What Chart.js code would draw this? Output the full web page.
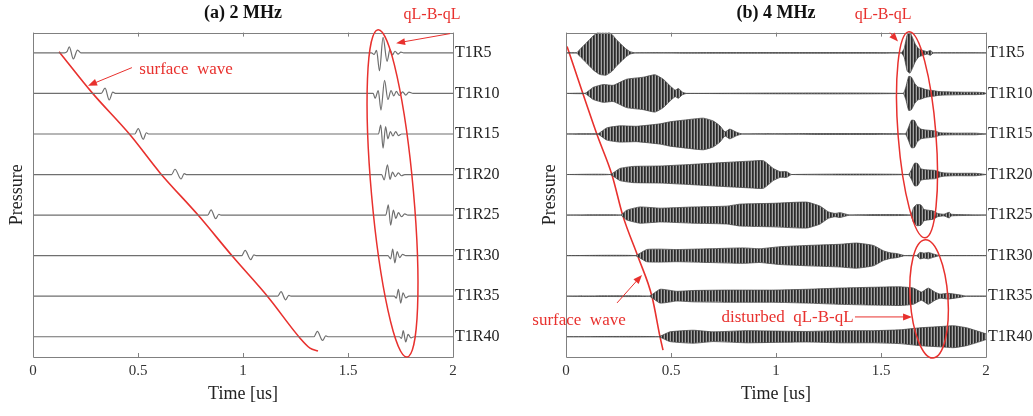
<!DOCTYPE html>
<html>
<head>
<meta charset="utf-8">
<script src="https://cdn.jsdelivr.net/npm/chart.js@4/dist/chart.umd.min.js"></script>
<style>
  body { margin: 0; background: #fff; width: 1033px; height: 416px; overflow: hidden; position: relative; }
  .panel { position: absolute; top: 0; height: 416px; }
  #panel-a { left: 0; width: 533px; }
  #panel-b { left: 533px; width: 500px; }
</style>
</head>
<body>
<div class="panel" id="panel-a"><canvas id="chart-a"></canvas></div>
<div class="panel" id="panel-b"><canvas id="chart-b"></canvas></div>
<script>
// Receivers, top to bottom, and time ticks
const receivers = ['T1R5', 'T1R10', 'T1R15', 'T1R20', 'T1R25', 'T1R30', 'T1R35', 'T1R40'];
const timeTicks = [0, 0.5, 1, 1.5, 2];

// (a) 2 MHz: surface wave wiggle per receiver, [time us, pressure]
const surfaceA = [
    [[0.15, 0], [0.162, 0.03], [0.173, 0.15], [0.192, -0.15], [0.212, 0.07], [0.228, 0]],
    [[0.325, 0], [0.343, 0.13], [0.363, -0.16], [0.38, 0.03], [0.392, 0]],
    [[0.485, 0], [0.501, 0.13], [0.525, -0.13], [0.54, 0.03], [0.55, 0]],
    [[0.66, 0], [0.676, 0.13], [0.705, -0.11], [0.72, 0.02], [0.73, 0]],
    [[0.832, 0], [0.848, 0.13], [0.87, -0.09], [0.885, 0.02], [0.895, 0]],
    [[0.994, 0], [1.01, 0.13], [1.037, -0.1], [1.052, 0.02], [1.062, 0]],
    [[1.165, 0], [1.181, 0.11], [1.203, -0.09], [1.218, 0.02], [1.228, 0]],
    [[1.338, 0], [1.354, 0.13], [1.379, -0.09], [1.394, 0.02], [1.404, 0]]
];

// (a) 2 MHz: qL-B-qL arrivals per receiver
const qlbqlA = [
    [[1.612, 0], [1.624, -0.04], [1.636, 0.06], [1.65, -0.44], [1.667, 0.38], [1.686, -0.21], [1.7, 0.08], [1.712, -0.05], [1.724, 0.04], [1.738, -0.03], [1.752, 0.02], [1.765, 0]],
    [[1.62, 0], [1.629, -0.12], [1.644, 0.07], [1.657, -0.41], [1.674, 0.32], [1.69, -0.15], [1.705, 0.07], [1.718, -0.06], [1.73, 0.05], [1.745, -0.05], [1.76, 0.04], [1.775, -0.04], [1.79, 0.03], [1.81, 0]],
    [[1.645, 0], [1.656, 0.22], [1.667, -0.35], [1.679, 0.18], [1.69, -0.12], [1.702, 0.06], [1.714, -0.05], [1.727, 0.06], [1.74, -0.04], [1.755, 0]],
    [[1.66, 0], [1.672, -0.13], [1.688, 0.24], [1.7, -0.12], [1.712, 0.06], [1.725, -0.05], [1.74, 0.04], [1.755, -0.03], [1.77, 0]],
    [[1.68, 0], [1.692, 0.25], [1.703, -0.25], [1.716, 0.12], [1.728, -0.08], [1.74, 0.06], [1.755, -0.04], [1.77, 0.03], [1.785, 0]],
    [[1.69, 0], [1.703, -0.08], [1.713, 0.16], [1.723, -0.18], [1.734, 0.1], [1.746, -0.05], [1.76, 0.03], [1.775, 0]],
    [[1.72, 0], [1.73, -0.05], [1.74, 0.17], [1.751, -0.17], [1.762, 0.08], [1.775, -0.04], [1.79, 0]],
    [[1.745, 0], [1.755, -0.04], [1.763, 0.15], [1.775, -0.13], [1.786, 0.06], [1.8, -0.03], [1.815, 0]]
];

// (a) surface wave guide line, [time, trace level]
const surfaceLineA = [[0.124, 8.03], [0.281, 7.02], [0.462, 5.98], [0.605, 5.04], [0.786, 4.0], [0.952, 2.97], [1.119, 1.98], [1.271, 0.97], [1.319, 0.72], [1.357, 0.65]];

// (b) 4 MHz: envelope of the dense surface wave packets, [time, half amplitude]
const surfaceEnvB = [
    [[0.05, 0], [0.065, 0.08], [0.098, 0.25], [0.13, 0.42], [0.16, 0.53], [0.19, 0.55], [0.22, 0.45], [0.241, 0.32], [0.265, 0.2], [0.285, 0.1], [0.305, 0.03], [0.33, 0]],
    [[0.09, 0], [0.13, 0.15], [0.178, 0.22], [0.225, 0.2], [0.289, 0.35], [0.368, 0.4], [0.424, 0.46], [0.463, 0.35], [0.503, 0.15], [0.52, 0.08], [0.535, 0.12], [0.555, 0.03], [0.575, 0]],
    [[0.15, 0], [0.194, 0.15], [0.257, 0.2], [0.337, 0.19], [0.448, 0.25], [0.495, 0.3], [0.575, 0.35], [0.654, 0.39], [0.701, 0.32], [0.733, 0.2], [0.757, 0.05], [0.78, 0.12], [0.813, 0.04], [0.84, 0]],
    [[0.21, 0], [0.257, 0.15], [0.32, 0.2], [0.448, 0.21], [0.6, 0.25], [0.765, 0.3], [0.876, 0.33], [0.94, 0.34], [0.987, 0.15], [1.02, 0.07], [1.05, 0.07], [1.075, 0]],
    [[0.26, 0], [0.289, 0.12], [0.352, 0.2], [0.448, 0.17], [0.606, 0.2], [0.765, 0.22], [0.829, 0.27], [0.987, 0.29], [1.146, 0.32], [1.21, 0.22], [1.249, 0.08], [1.281, 0.04], [1.305, 0.06], [1.352, 0]],
    [[0.33, 0], [0.384, 0.15], [0.448, 0.16], [0.527, 0.15], [0.686, 0.17], [0.844, 0.19], [0.924, 0.17], [1.019, 0.22], [1.146, 0.25], [1.305, 0.28], [1.384, 0.31], [1.464, 0.25], [1.511, 0.12], [1.543, 0.07], [1.575, 0.05], [1.614, 0]],
    [[0.395, 0], [0.448, 0.17], [0.527, 0.12], [0.606, 0.14], [0.765, 0.15], [0.987, 0.15], [1.146, 0.17], [1.305, 0.2], [1.464, 0.22], [1.59, 0.23], [1.654, 0.2], [1.693, 0.1], [1.725, 0.2], [1.757, 0.1], [1.781, 0.05], [1.82, 0.07], [1.876, 0.03], [1.908, 0]],
    [[0.44, 0], [0.495, 0.12], [0.606, 0.16], [0.701, 0.12], [0.86, 0.15], [0.987, 0.14], [1.146, 0.13], [1.305, 0.15], [1.464, 0.15], [1.59, 0.17], [1.686, 0.22], [1.781, 0.25], [1.845, 0.27], [1.908, 0.22], [1.971, 0.12], [2.0, 0.07]]
];

// (b) 4 MHz: envelope of the qL-B-qL packets
const qlbqlEnvB = [
    [[1.595, 0], [1.61, 0.1], [1.625, 0.45], [1.638, 0.5], [1.652, 0.35], [1.665, 0.2], [1.68, 0.1], [1.7, 0.06], [1.72, 0.03], [1.735, 0.06], [1.75, 0]],
    [[1.605, 0], [1.618, 0.15], [1.632, 0.42], [1.645, 0.4], [1.66, 0.25], [1.675, 0.16], [1.69, 0.14], [1.71, 0.1], [1.73, 0.08], [1.75, 0.07], [1.77, 0.05], [1.8, 0.04], [1.85, 0.035], [1.9, 0.03], [1.95, 0.03], [1.99, 0.02]],
    [[1.615, 0], [1.63, 0.15], [1.645, 0.34], [1.66, 0.33], [1.672, 0.2], [1.69, 0.12], [1.71, 0.1], [1.73, 0.09], [1.76, 0.07], [1.78, 0.03], [1.85, 0.02], [1.95, 0.02]],
    [[1.63, 0], [1.645, 0.12], [1.66, 0.28], [1.675, 0.27], [1.69, 0.14], [1.71, 0.12], [1.735, 0.11], [1.76, 0.1], [1.78, 0.06], [1.8, 0.04], [1.85, 0.03], [1.95, 0.03]],
    [[1.64, 0], [1.655, 0.18], [1.67, 0.26], [1.69, 0.25], [1.705, 0.14], [1.725, 0.12], [1.75, 0.1], [1.77, 0.04], [1.8, 0.02], [1.825, 0.07], [1.835, 0.02], [1.9, 0.01]],
    [[1.67, 0], [1.685, 0.08], [1.705, 0.06], [1.725, 0.08], [1.75, 0.04], [1.78, 0]],
    [],
    []
];

// (b) surface wave guide line
const surfaceLineB = [[0.005, 8.155], [0.148, 5.98], [0.219, 4.99], [0.271, 3.98], [0.343, 2.97], [0.41, 1.98], [0.448, 0.99], [0.462, 0.67]];

// Styling
const RED = '#e8312e';
const TRACE = '#6f6f6f';
const SERIF = 'Liberation Serif';

// Annotations, placed in data coordinates
const notesA = {
    texts: [
        { text: 'qL-B-qL', at: [1.9, 8.94], size: 16 },
        { text: 'surface  wave', at: [0.729, 7.59], size: 17 }
    ],
    arrows: [
        { from: [1.986, 8.475], to: [1.729, 8.24] },
        { from: [0.471, 7.636], to: [0.262, 7.19] }
    ],
    ellipses: [
        { top: [1.643, 8.57], bottom: [1.781, 0.5], half: 0.1 }
    ]
};
const notesB = {
    texts: [
        { text: 'qL-B-qL', at: [1.51, 8.94], size: 16 },
        { text: 'surface  wave', at: [0.062, 1.41], size: 17 },
        { text: 'disturbed  qL-B-qL', at: [1.055, 1.463], size: 17 }
    ],
    arrows: [
        { from: [1.543, 8.5], to: [1.581, 8.28] },
        { from: [0.243, 1.833], to: [0.362, 2.525] },
        { from: [1.376, 1.488], to: [1.648, 1.488] }
    ],
    ellipses: [
        { top: [1.633, 8.52], bottom: [1.71, 3.44], half: 0.09 },
        { top: [1.71, 3.39], bottom: [1.748, 0.475], half: 0.09 }
    ]
};

// Dense oscillation look for the 4 MHz packets
function stripes() {
    const c = document.createElement('canvas');
    c.width = 3; c.height = 1;
    const g = c.getContext('2d');
    g.fillStyle = '#2a2a2a'; g.fillRect(0, 0, 1, 1);
    g.fillStyle = '#4e4e4e'; g.fillRect(1, 0, 1, 1);
    g.fillStyle = '#a4a4a4'; g.fillRect(2, 0, 1, 1);
    return g.createPattern(c, 'repeat');
}

const level = i => receivers.length - i;

function wiggleDatasets() {
    return receivers.map((r, i) => {
        const base = level(i);
        const pts = [[0, 0], ...surfaceA[i], ...qlbqlA[i], [2, 0]];
        return {
            label: r,
            data: pts.map(p => ({ x: p[0], y: base + p[1] })),
            borderColor: TRACE,
            borderWidth: 1.2,
            pointRadius: 0,
            cubicInterpolationMode: 'monotone',
            fill: false
        };
    });
}

function envelopeDatasets() {
    const pattern = stripes();
    const sets = [];
    receivers.forEach((r, i) => {
        const base = level(i);
        const env = [[0, 0], ...surfaceEnvB[i], ...qlbqlEnvB[i]].sort((a, b) => a[0] - b[0]);
        if (env[env.length - 1][0] < 2) env.push([2, 0]);
        sets.push({
            label: r + ' upper',
            data: env.map(p => ({ x: p[0], y: base + p[1] })),
            borderColor: '#4a4a4a', borderWidth: 0.8, pointRadius: 0, tension: 0.15, fill: false
        });
        sets.push({
            label: r + ' lower',
            data: env.map(p => ({ x: p[0], y: base - p[1] })),
            borderColor: '#4a4a4a', borderWidth: 0.8, pointRadius: 0, tension: 0.15,
            fill: '-1', backgroundColor: pattern
        });
    });
    return sets;
}

function guideLine(points) {
    return {
        label: 'surface wave',
        data: points.map(p => ({ x: p[0], y: p[1] })),
        borderColor: RED,
        borderWidth: 1.6,
        pointRadius: 0,
        cubicInterpolationMode: 'monotone',
        fill: false
    };
}

// Box and inward ticks
const framePlugin = {
    id: 'frame',
    afterDatasetsDraw(chart) {
        const { ctx, chartArea: a, scales: { x } } = chart;
        ctx.save();
        ctx.strokeStyle = '#808080';
        ctx.lineWidth = 1;
        ctx.beginPath();
        ctx.rect(Math.round(a.left) + 0.5, Math.round(a.top) + 0.5, Math.round(a.width), Math.round(a.height));
        timeTicks.forEach(v => {
            const px = Math.round(x.getPixelForValue(v)) + 0.5;
            ctx.moveTo(px, a.bottom); ctx.lineTo(px, a.bottom - 4);
            ctx.moveTo(px, a.top); ctx.lineTo(px, a.top + 4);
        });
        ctx.stroke();
        ctx.restore();
    }
};

function notesPlugin(notes) {
    return {
        id: 'notes',
        afterDraw(chart) {
            const { ctx, scales: { x, y } } = chart;
            const P = p => [x.getPixelForValue(p[0]), y.getPixelForValue(p[1])];
            ctx.save();
            ctx.strokeStyle = RED;
            ctx.fillStyle = RED;
            ctx.lineWidth = 1.5;

            notes.ellipses.forEach(e => {
                const [x1, y1] = P(e.top), [x2, y2] = P(e.bottom);
                const rx = Math.hypot(x2 - x1, y2 - y1) / 2;
                const ry = e.half * (x.getPixelForValue(1) - x.getPixelForValue(0));
                ctx.beginPath();
                ctx.ellipse((x1 + x2) / 2, (y1 + y2) / 2, rx, ry, Math.atan2(y2 - y1, x2 - x1), 0, Math.PI * 2);
                ctx.stroke();
            });

            notes.arrows.forEach(ar => {
                const [x1, y1] = P(ar.from), [x2, y2] = P(ar.to);
                const ang = Math.atan2(y2 - y1, x2 - x1);
                ctx.lineWidth = 1;
                ctx.beginPath();
                ctx.moveTo(x1, y1);
                ctx.lineTo(x2 - 6 * Math.cos(ang), y2 - 6 * Math.sin(ang));
                ctx.stroke();
                ctx.beginPath();
                ctx.moveTo(x2, y2);
                ctx.lineTo(x2 - 9 * Math.cos(ang) + 3.5 * Math.sin(ang), y2 - 9 * Math.sin(ang) - 3.5 * Math.cos(ang));
                ctx.lineTo(x2 - 9 * Math.cos(ang) - 3.5 * Math.sin(ang), y2 - 9 * Math.sin(ang) + 3.5 * Math.cos(ang));
                ctx.closePath();
                ctx.fill();
            });

            ctx.textAlign = 'center';
            ctx.textBaseline = 'middle';
            notes.texts.forEach(t => {
                const [tx, ty] = P(t.at);
                ctx.font = t.size + 'px "' + SERIF + '"';
                ctx.fillText(t.text, tx, ty);
            });
            ctx.restore();
        }
    };
}

function makeChart(id, title, datasets, notes, rightWidth) {
    return new Chart(document.getElementById(id), {
        type: 'line',
        data: { datasets },
        options: {
            responsive: true,
            maintainAspectRatio: false,
            animation: false,
            layout: { padding: { left: 0, right: 0, top: 0, bottom: 9 } },
            plugins: {
                legend: { display: false },
                tooltip: { enabled: false },
                title: {
                    display: true, text: title, fullSize: false, color: '#111',
                    font: { family: SERIF, size: 18, weight: 'bold' },
                    padding: { top: 3, bottom: 8 }
                }
            },
            scales: {
                x: {
                    type: 'linear', min: 0, max: 2, position: 'bottom',
                    afterBuildTicks: s => { s.ticks = timeTicks.map(v => ({ value: v })); },
                    afterFit: s => { s.height = 50; },
                    grid: { display: false, drawTicks: false },
                    border: { display: false },
                    ticks: { color: '#333', padding: 5, font: { family: SERIF, size: 15 }, callback: v => String(v) },
                    title: { display: true, text: 'Time [us]', color: '#222', padding: { top: 0, bottom: 2 }, font: { family: SERIF, size: 18 } }
                },
                y: {
                    type: 'linear', min: 0.5, max: 8.5, position: 'right',
                    afterBuildTicks: s => { s.ticks = receivers.map((r, i) => ({ value: level(i) })); },
                    afterFit: s => { s.width = rightWidth; },
                    grid: { display: false, drawTicks: false },
                    border: { display: false },
                    ticks: {
                        color: '#222', padding: 2, font: { family: SERIF, size: 16 },
                        callback: v => receivers[receivers.length - Math.round(v)]
                    }
                },
                yl: {
                    type: 'linear', min: 0.5, max: 8.5, position: 'left',
                    afterFit: s => { s.width = 33; },
                    grid: { display: false, drawTicks: false },
                    border: { display: false },
                    ticks: { display: false },
                    title: { display: true, text: 'Pressure', color: '#222', padding: { top: 6, bottom: 0 }, font: { family: SERIF, size: 18 } }
                }
            }
        },
        plugins: [framePlugin, notesPlugin(notes)]
    });
}

makeChart('chart-a', '(a) 2 MHz', [...wiggleDatasets(), guideLine(surfaceLineA)], notesA, 80);
makeChart('chart-b', '(b) 4 MHz', [...envelopeDatasets(), guideLine(surfaceLineB)], notesB, 47);
</script>
</body>
</html>
